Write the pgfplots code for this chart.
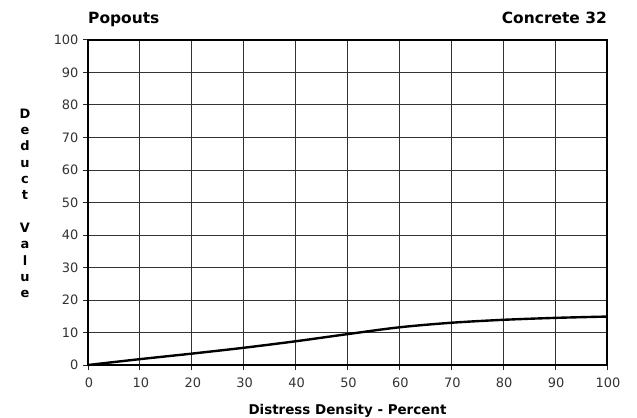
\documentclass[border=0pt]{standalone}
\usepackage{pgfplots}
\pgfplotsset{compat=1.18}
\usepackage{fontspec}
\setmainfont{DejaVu Sans}
\begin{document}
\begin{tikzpicture}
\path[use as bounding box] (-88bp,-53bp) rectangle (549bp,365bp);
\begin{axis}[
  at={(0,0)}, anchor=south west,
  scale only axis, width=519bp, height=325bp,
  xmin=0, xmax=100, ymin=0, ymax=100,
  xtick={0,10,...,100}, ytick={0,10,...,100},
  grid=major,
  major grid style={line width=1pt, color=black!80},
  axis line style={line width=1.3pt, black},
  tick style={line width=1pt, black!85},
  tick align=outside, major tick length=5bp,
  xtick pos=bottom, ytick pos=left,
  /pgf/number format/assume math mode=true,
  tick label style={font=\fontsize{13}{15}\selectfont, text=black!80},
  xticklabel style={yshift=-4bp, xshift=1bp},
  yticklabel style={xshift=-1bp},
  clip=false,
]
\addplot[black, line width=2.4pt, smooth] coordinates {
(0,0) (10,1.8) (20,3.5) (30,5.3) (40,7.3) (50,9.5) (60,11.6) (70,13.0) (80,13.9) (90,14.5) (100,14.9)
};
\node[anchor=base west, font=\bfseries\fontsize{15.5}{18}\selectfont, inner sep=0pt] at (rel axis cs:0,1) [yshift=16bp] {Popouts};
\node[anchor=base east, font=\bfseries\fontsize{15.5}{18}\selectfont, inner sep=0pt] at (rel axis cs:1,1) [yshift=16bp] {Concrete 32};
\node[anchor=base, font=\bfseries\fontsize{13.5}{16}\selectfont, inner sep=0pt] at (rel axis cs:0.5,0) [yshift=-49bp] {Distress Density - Percent};
\node[font=\bfseries\fontsize{13}{16.4}\selectfont, align=center, inner sep=0pt] at (rel axis cs:0,0.5) [xshift=-63bp, yshift=-1bp] {D\\e\\d\\u\\c\\t\\ \\V\\a\\l\\u\\e};
\end{axis}
\end{tikzpicture}
\end{document}
